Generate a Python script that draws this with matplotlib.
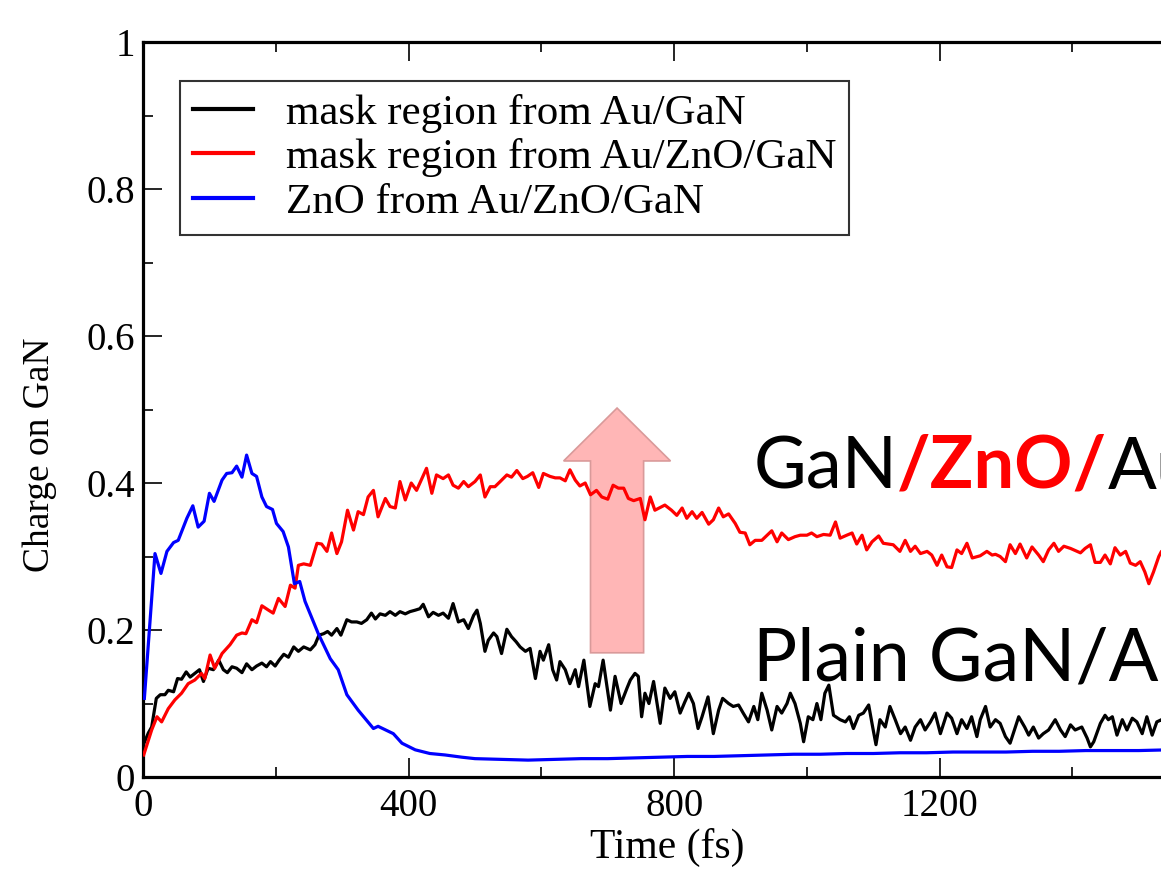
import numpy as np
import matplotlib
matplotlib.use("Agg")
import matplotlib.pyplot as plt
from matplotlib.ticker import MultipleLocator
from matplotlib.patches import FancyArrow

# charge on GaN vs time
black_t = [0, 1.5, 8, 13, 20, 26, 33, 38, 46, 52, 58, 65, 71, 78, 85, 91, 98, 106, 114, 121, 127,
           134, 141, 149, 156, 164, 171, 179, 186, 192, 199, 205, 212, 219, 227, 234, 242,
           252, 259, 265, 272, 278, 284, 292, 298, 307, 314, 322, 329, 337, 344, 350, 357, 365,
           372, 380, 387, 395, 402, 410, 417, 422, 430, 437, 445, 452, 460, 467, 475, 483, 490,
           498, 503, 508, 515, 520, 528, 533, 540, 548, 555, 562, 568, 576, 583, 591, 598, 603,
           611, 617, 623, 628, 636, 643, 651, 656, 664, 673, 681, 686, 693, 704, 711, 720, 729,
           734, 741,
           746, 751, 756, 762, 769, 779, 786, 794, 801, 809, 816, 822, 829, 836, 842, 851, 859,
           867, 873, 882, 889, 897, 904, 912, 920, 926, 932, 940, 947, 955, 962, 970, 975, 982,
           990,
           995, 1002, 1009, 1015, 1021, 1027, 1033, 1040, 1050, 1058, 1064, 1070, 1078, 1085,
           1093, 1099, 1104, 1110, 1118, 1125, 1133, 1141, 1148, 1156, 1163, 1171, 1178, 1186,
           1193, 1201, 1211, 1218, 1226, 1233, 1241, 1248,
           1256, 1261, 1269, 1276, 1284, 1291, 1299, 1306, 1314, 1319, 1328, 1334, 1341, 1349,
           1356, 1364, 1374, 1382, 1389, 1397, 1404, 1414, 1422, 1427, 1432, 1442, 1449, 1454,
           1460, 1467, 1475, 1482, 1490, 1497, 1505, 1512, 1520, 1527, 1534, 1545]
black_v = [0.040, 0.046, 0.060, 0.068, 0.107, 0.112, 0.112, 0.118, 0.116, 0.134, 0.133,
           0.143, 0.136, 0.141, 0.146, 0.130, 0.148, 0.146, 0.159, 0.146, 0.142,
           0.150, 0.148, 0.142, 0.154, 0.146, 0.151, 0.155, 0.150, 0.157, 0.151,
           0.159, 0.167, 0.163, 0.177, 0.171, 0.177,
           0.173, 0.180, 0.193, 0.195, 0.198, 0.193, 0.202, 0.193, 0.214, 0.211, 0.211, 0.209,
           0.214, 0.223, 0.215, 0.222, 0.220, 0.225, 0.220, 0.225, 0.222, 0.225, 0.227, 0.229,
           0.235, 0.218, 0.224, 0.220, 0.223, 0.216, 0.236, 0.211, 0.214, 0.202,
           0.220, 0.227, 0.209, 0.171, 0.186, 0.196, 0.191, 0.168, 0.201, 0.191, 0.184, 0.177,
           0.171, 0.175, 0.134, 0.171, 0.159, 0.180, 0.146, 0.132, 0.157, 0.146, 0.127, 0.146,
           0.123, 0.159, 0.096, 0.127, 0.123, 0.159, 0.091, 0.137, 0.100, 0.121, 0.132, 0.141,
           0.137, 0.082, 0.114, 0.100, 0.130, 0.073, 0.121, 0.107, 0.116, 0.087, 0.102, 0.114,
           0.100, 0.066, 0.082, 0.109, 0.059, 0.091, 0.107, 0.100, 0.096, 0.098, 0.087, 0.075,
           0.096, 0.078, 0.114, 0.091, 0.064, 0.096, 0.087, 0.100, 0.114, 0.100, 0.073,
           0.048, 0.082, 0.078, 0.100, 0.078, 0.114, 0.125, 0.084, 0.078, 0.075, 0.082, 0.066,
           0.084, 0.087, 0.098, 0.068, 0.044, 0.078, 0.068, 0.096, 0.078, 0.059, 0.068, 0.050,
           0.068, 0.078, 0.064, 0.075, 0.087, 0.059, 0.087, 0.080, 0.059, 0.078, 0.066, 0.082,
           0.055, 0.078, 0.096, 0.068, 0.078, 0.073, 0.055, 0.046, 0.068, 0.082, 0.068, 0.057,
           0.068, 0.053, 0.059, 0.064, 0.078, 0.064, 0.055, 0.071, 0.064, 0.068, 0.053, 0.041,
           0.048, 0.073, 0.084, 0.078, 0.082, 0.057, 0.078, 0.064, 0.080, 0.075, 0.059, 0.082,
           0.057, 0.075, 0.078, 0.066]

red_t = [1, 13, 21, 28, 38, 48, 58, 68, 78, 88, 93, 101, 108, 119, 131, 141, 149, 155, 164, 171,
         179, 189, 196, 204, 214, 222, 229, 234, 242,
         252, 262, 269, 277, 284, 292, 299, 308, 317, 324, 332, 339, 347, 354, 365, 372, 380,
         387, 395, 404, 412, 420, 427, 435, 442, 452, 460, 467, 475, 483, 490,
         500, 508, 515, 523, 530, 538, 548, 555, 563, 572, 579, 587, 596, 603, 613, 621, 628,
         636, 643, 651, 658, 666, 674, 683, 691, 700, 708, 716, 724, 731, 739,
         749, 756, 764, 771, 786, 796, 804, 812, 819, 827, 834, 842, 852, 859, 867, 874, 882,
         892, 899, 907, 914, 922, 932, 940, 947, 955, 962, 972, 982, 990,
         1000, 1007, 1015, 1025, 1035, 1043, 1050, 1060, 1068, 1075, 1083, 1090, 1098, 1108,
         1115, 1123, 1130, 1140, 1148, 1156, 1163, 1171, 1181, 1188, 1196, 1203, 1211, 1218,
         1226, 1233, 1241, 1249,
         1261, 1271, 1279, 1284, 1291, 1299, 1306, 1314, 1321, 1331, 1339, 1349, 1356, 1364,
         1372, 1379, 1387, 1397, 1412, 1419, 1427, 1434, 1442, 1449, 1457, 1464, 1472, 1480,
         1487, 1495, 1502, 1509, 1515, 1522, 1530, 1534, 1545]
red_v = [0.030, 0.064, 0.082, 0.075, 0.093, 0.105, 0.114, 0.127, 0.132, 0.141, 0.134, 0.166,
         0.148, 0.168, 0.180, 0.193, 0.196, 0.195, 0.214, 0.210, 0.233, 0.227, 0.223, 0.243,
         0.232, 0.261, 0.257, 0.288, 0.290,
         0.288, 0.318, 0.317, 0.307, 0.332, 0.304, 0.320, 0.363, 0.336, 0.361, 0.357, 0.381,
         0.390, 0.354, 0.379, 0.368, 0.366, 0.402, 0.377, 0.400, 0.390, 0.406, 0.420, 0.386,
         0.411, 0.406, 0.411, 0.397, 0.393, 0.402, 0.395,
         0.402, 0.411, 0.381, 0.395, 0.395, 0.402, 0.411, 0.408, 0.417, 0.406, 0.409, 0.414,
         0.394, 0.413, 0.409, 0.407, 0.407, 0.403, 0.418, 0.404, 0.396, 0.400, 0.384, 0.390,
         0.381, 0.378, 0.397, 0.393, 0.393, 0.379, 0.376,
         0.379, 0.350, 0.381, 0.363, 0.370, 0.363, 0.356, 0.366, 0.352, 0.361, 0.352, 0.360,
         0.344, 0.350, 0.366, 0.354, 0.358, 0.345, 0.333, 0.332, 0.316, 0.322, 0.322, 0.329,
         0.335, 0.320, 0.332, 0.323, 0.327, 0.329,
         0.329, 0.332, 0.327, 0.330, 0.329, 0.347, 0.325, 0.329, 0.332, 0.317, 0.329, 0.309,
         0.320, 0.328, 0.318, 0.317, 0.316, 0.307, 0.322, 0.307, 0.314, 0.304, 0.307, 0.302,
         0.288, 0.302, 0.286, 0.285, 0.309, 0.304, 0.318, 0.298,
         0.301, 0.307, 0.302, 0.303, 0.300, 0.293, 0.316, 0.304, 0.317, 0.298, 0.313, 0.302,
         0.293, 0.309, 0.318, 0.307, 0.314, 0.311, 0.305, 0.311, 0.316, 0.292, 0.292, 0.302,
         0.290, 0.312, 0.302, 0.307, 0.291, 0.288, 0.293, 0.279, 0.263, 0.279, 0.300, 0.307,
         0.300]

blue_t = [2, 18, 27, 36, 46, 53, 66, 75, 83, 92, 100, 107, 119, 126, 134, 141, 149, 156, 164, 171,
          179, 186, 195, 201, 211, 219, 228, 236, 244, 264, 282, 294, 307, 324, 347, 354, 377,
          390, 410, 432, 455, 480, 500, 540, 580, 620, 660, 700, 740, 780, 820, 860, 900, 940,
          980, 1020, 1060, 1100, 1140, 1180, 1220, 1260, 1300, 1340, 1380, 1420, 1460, 1500,
          1545]
blue_v = [0.107, 0.304, 0.277, 0.307, 0.319, 0.322, 0.352, 0.369, 0.340, 0.348,
          0.386, 0.375, 0.404, 0.413, 0.414, 0.423, 0.408, 0.438, 0.413, 0.409,
          0.381, 0.368, 0.364, 0.345, 0.334, 0.313, 0.263, 0.266, 0.239, 0.195,
          0.161, 0.146, 0.112, 0.091, 0.066, 0.069, 0.059, 0.046, 0.037, 0.032,
          0.030, 0.027, 0.025, 0.024, 0.023, 0.024, 0.025, 0.025, 0.026, 0.027,
          0.028, 0.028, 0.029, 0.030, 0.031, 0.031, 0.032, 0.032, 0.033, 0.033,
          0.034, 0.034, 0.034, 0.035, 0.035, 0.036, 0.036, 0.036, 0.037]

labels = ["mask region from Au/GaN", "mask region from Au/ZnO/GaN", "ZnO from Au/ZnO/GaN"]
xticks = [0, 400, 800, 1200]
xticklabels = ["0", "400", "800", "1200"]
yticks = [0, 0.2, 0.4, 0.6, 0.8, 1.0]
yticklabels = ["0", "0.2", "0.4", "0.6", "0.8", "1"]

serif = "Liberation Serif"
sans = "Lato"

fig = plt.figure(figsize=(11.61, 8.77), dpi=100)
# axes run past the right edge of the picture, like the cropped original
ax = fig.add_axes([0.1232, 0.1140, 0.9035, 0.8381])

ax.plot(black_t, black_v, color="black", lw=2.3, label=labels[0], zorder=3)
ax.plot(red_t, red_v, color="#ff0000", lw=2.3, label=labels[1], zorder=3)
ax.plot(blue_t, blue_v, color="#0000ff", lw=2.3, label=labels[2], zorder=3)

ax.set_xlim(0, 1580)
ax.set_ylim(0, 1)
ax.set_xticks(xticks)
ax.set_xticklabels(xticklabels)
ax.set_yticks(yticks)
ax.set_yticklabels(yticklabels)
ax.xaxis.set_minor_locator(MultipleLocator(200))
ax.yaxis.set_minor_locator(MultipleLocator(0.1))
ax.tick_params(which="both", direction="in", top=True, right=True, width=1.2,
               labelsize=28, labelfontfamily=serif)
ax.tick_params(axis="x", which="major", length=14, pad=8)
ax.tick_params(axis="y", which="major", length=14, pad=6)
ax.tick_params(which="minor", length=7)
for s in ax.spines.values():
    s.set_linewidth(2.3)

ax.set_xlabel("Time (fs)", fontsize=30, family=serif, labelpad=2)
ax.set_ylabel("Charge on GaN", fontsize=27, family=serif)
ax.yaxis.set_label_coords(-0.082, 0.438)

leg = ax.legend(loc="upper left", bbox_to_anchor=(0.0353, 0.947), borderaxespad=0,
                prop={"family": serif, "size": 31}, frameon=True, fancybox=False,
                handlelength=1.4, handletextpad=0.75, labelspacing=0.12, borderpad=0.3)
leg.get_frame().set_edgecolor("black")
leg.get_frame().set_linewidth(1.5)
for ln in leg.get_lines():
    ln.set_linewidth(3)

# pink arrow
arr = FancyArrow(714, 0.169, 0, 0.333, width=80, head_width=161, head_length=0.072,
                 length_includes_head=True, facecolor="#ffb6b6", edgecolor="#d99a9a",
                 lw=1.2, zorder=2)
ax.add_patch(arr)

# labels on the right
t1 = ax.text(919, 0.393, "GaN", fontsize=52, family=sans, va="baseline", color="black")
t2 = ax.annotate("/ZnO/", xy=(1, 0), xycoords=t1, va="bottom", ha="left",
                 fontsize=52, family=sans, weight="bold", color="#ff0000")
t3 = ax.annotate("Au", xy=(1, 0), xycoords=t2, va="bottom", ha="left",
                 fontsize=52, family=sans, color="black")
ax.text(919, 0.132, "Plain GaN/Au", fontsize=53, family=sans, va="baseline", color="black")

fig.savefig("out.png", dpi=100)
